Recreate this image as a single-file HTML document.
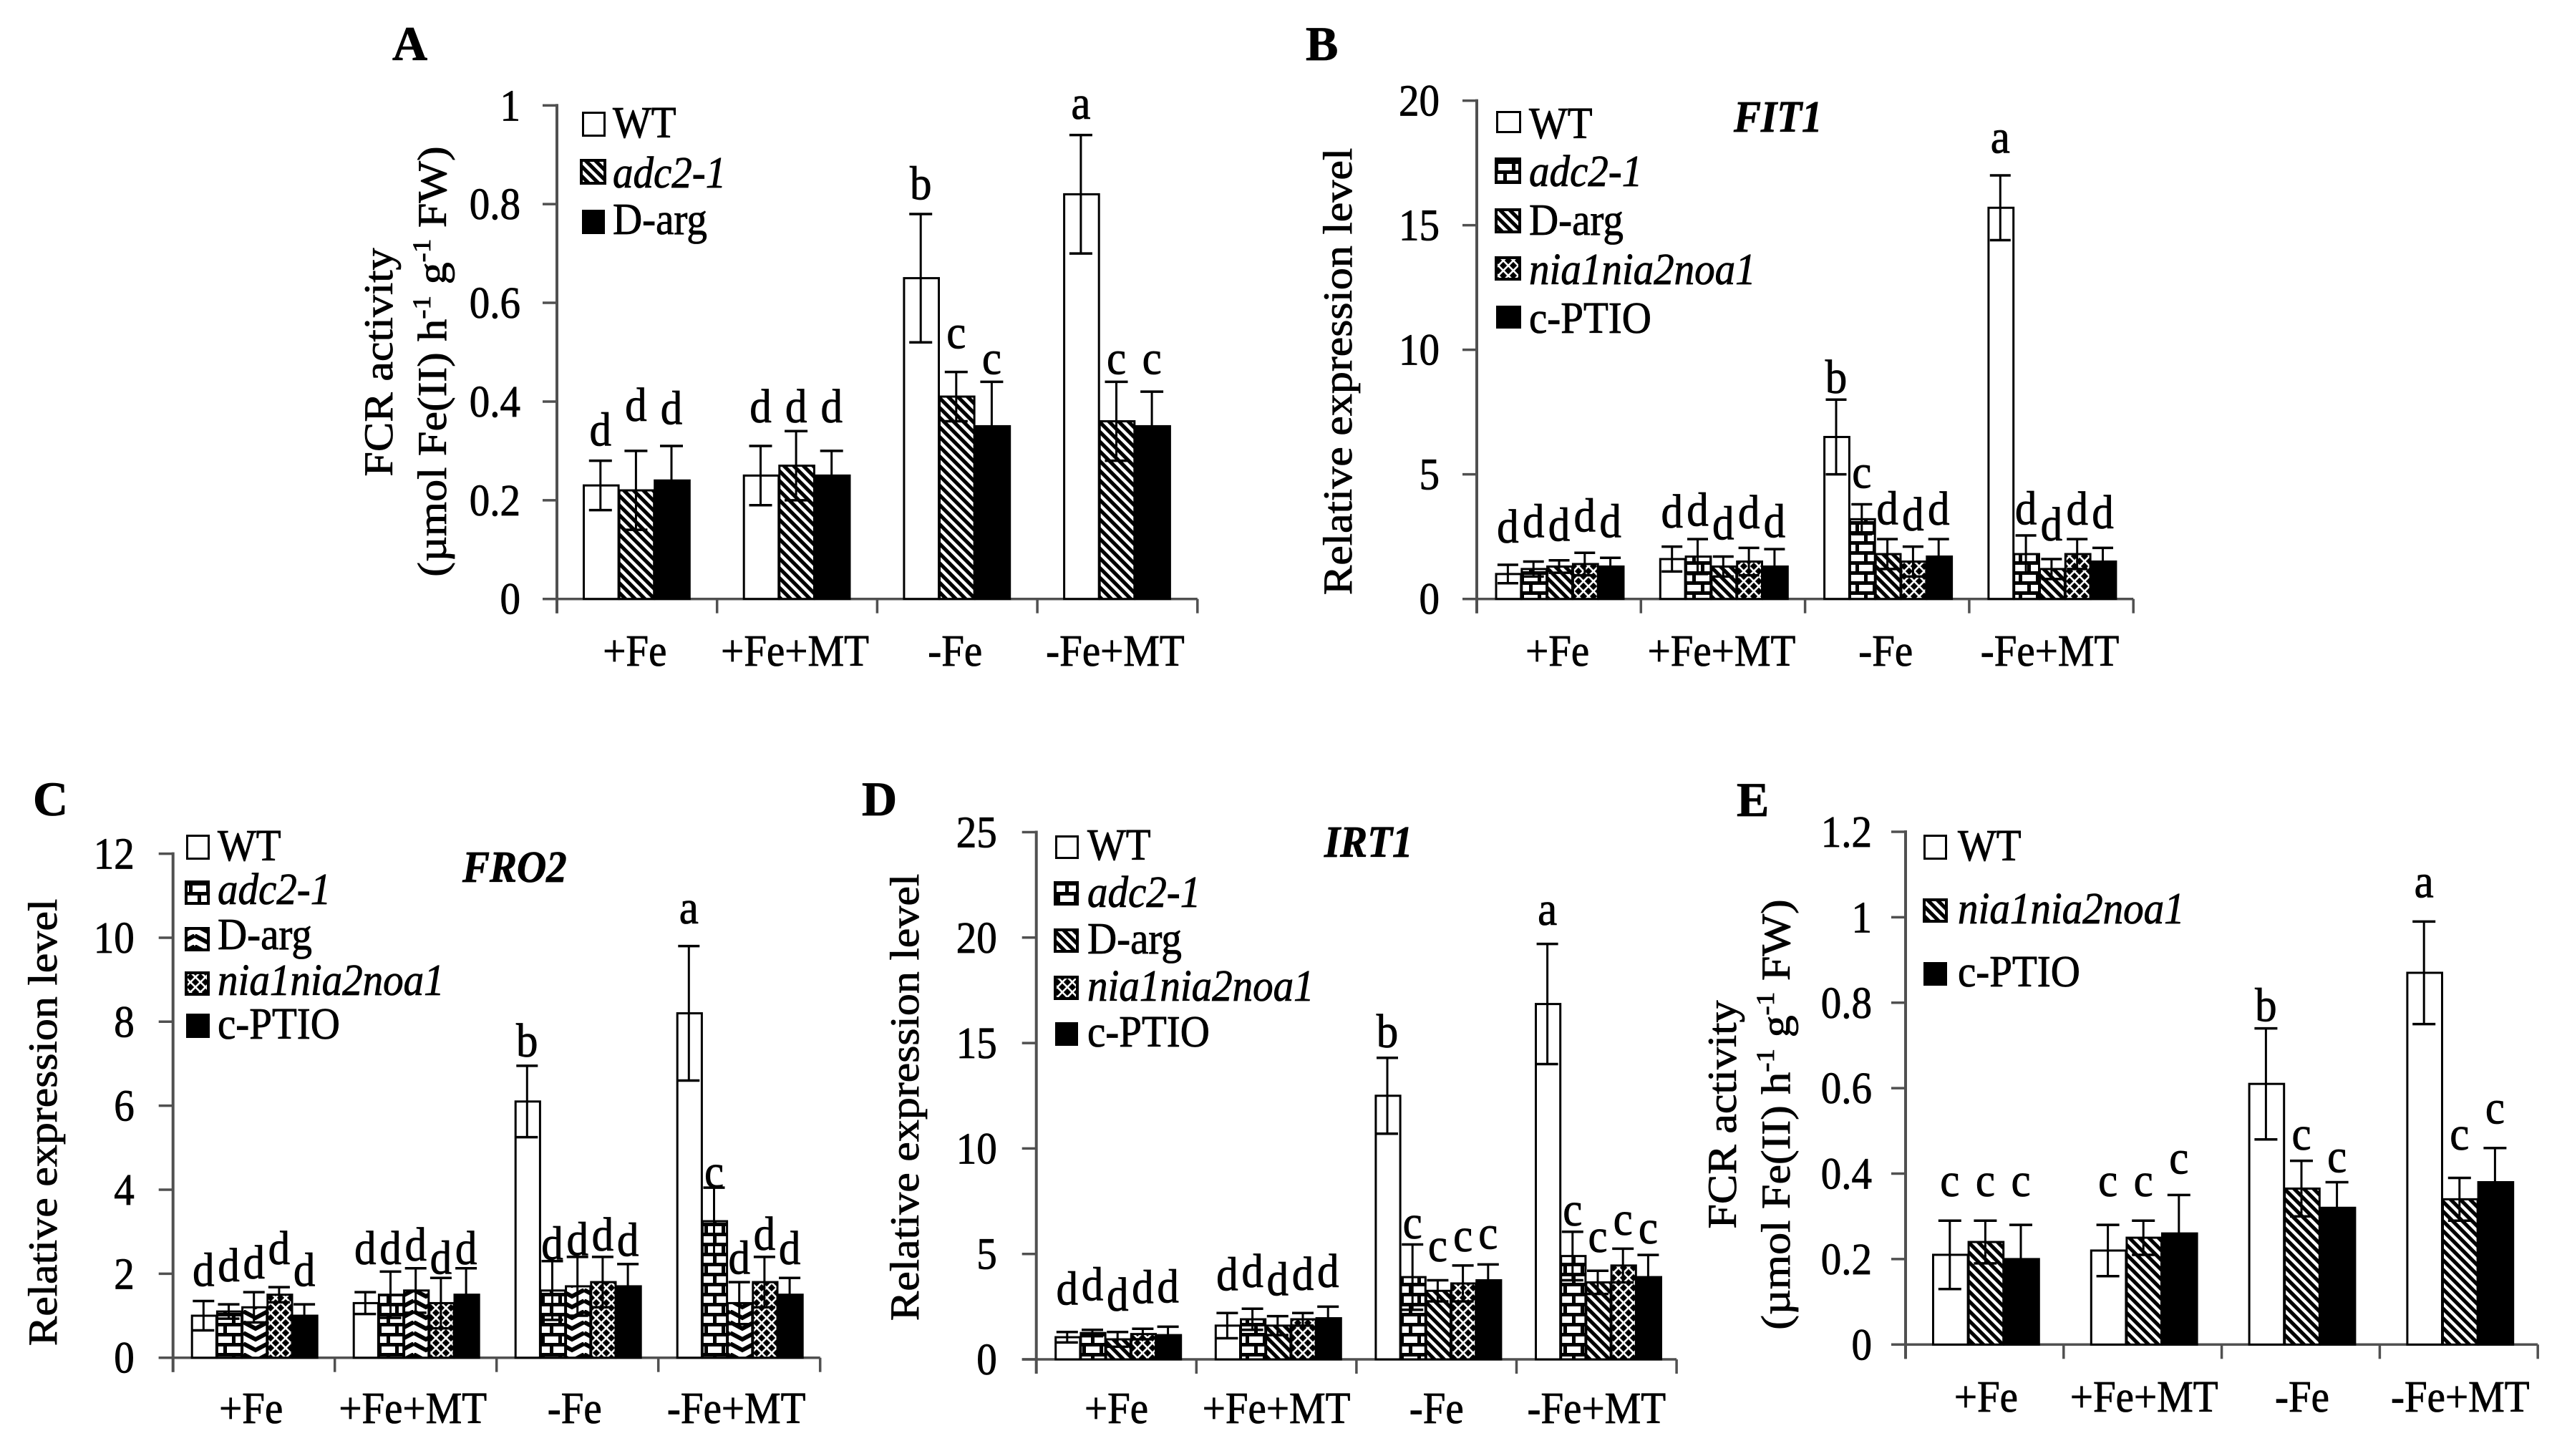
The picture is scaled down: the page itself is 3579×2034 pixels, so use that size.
<!DOCTYPE html>
<html lang="en">
<head>
<meta charset="utf-8">
<title>FCR activity and gene expression panels</title>
<style>
html,body{margin:0;padding:0;background:#fff;}
svg{display:block;font-family:"Liberation Serif",serif;font-size:57px;fill:#000;}
text{stroke:#000;stroke-width:0.8px;}
.pl{font-weight:bold;font-size:68px;}
.gene{font-weight:bold;font-style:italic;font-size:57px;}
.it{font-style:italic;}
</style>
</head>
<body>
<svg id="figure" xmlns="http://www.w3.org/2000/svg" width="3579" height="2034" viewBox="0 0 3579 2034">
<defs>
<pattern id="hatch" patternUnits="userSpaceOnUse" width="9.6" height="9.6" patternTransform="rotate(-45)"><rect width="9.6" height="9.6" fill="#000"/><rect width="4.4" height="9.6" fill="#fff"/></pattern>
<pattern id="brick" patternUnits="userSpaceOnUse" width="24" height="28"><rect width="24" height="28" fill="#fff"/><rect width="24" height="5" fill="#000"/><rect y="14" width="24" height="5" fill="#000"/><rect width="5" height="14" fill="#000"/><rect x="12" y="14" width="5" height="14" fill="#000"/></pattern>
<pattern id="zigzag" patternUnits="userSpaceOnUse" width="34" height="15"><rect width="34" height="15" fill="#fff"/><path d="M0 2 L17 11 L34 2" fill="none" stroke="#000" stroke-width="6"/></pattern>
<pattern id="lattice" patternUnits="userSpaceOnUse" width="14" height="14"><rect width="14" height="14" fill="#000"/><path d="M0 0L14 14M14 0L0 14" stroke="#fff" stroke-width="2.6"/></pattern>
</defs>

<!-- Panel A static text and legend -->
<g>
<text class="pl" x="548" y="84">A</text>
<text transform="translate(548 506) rotate(-90) scale(1.09 1)" text-anchor="middle">FCR activity</text>
<text transform="translate(623 505) rotate(-90) scale(1.09 1)" text-anchor="middle">(µmol Fe(II) h<tspan dy="-22" font-size="36">-1</tspan><tspan dy="22"> g</tspan><tspan dy="-22" font-size="36">-1</tspan><tspan dy="22"> FW)</tspan></text>
<rect x="814.5" y="157.5" width="30" height="32" fill="#fff" stroke="#000" stroke-width="3"/>
<text transform="translate(856 192) scale(1 1.09)">WT</text>
<rect x="812" y="224" width="33" height="32" fill="url(#hatch)" stroke="#000" stroke-width="4"/>
<text class="it" transform="translate(856 262) scale(1 1.09)">adc2-1</text>
<rect x="813" y="293" width="32" height="34" fill="#000"/>
<text transform="translate(856 327) scale(1 1.09)">D-arg</text>
</g>

<!-- Panel B static text and legend -->
<g>
<text class="pl" x="1824" y="84">B</text>
<text class="gene" transform="translate(2422 184) scale(1 1.09)">FIT1</text>
<text transform="translate(1888 519) rotate(-90) scale(1.09 1)" text-anchor="middle">Relative expression level</text>
<rect x="2091.5" y="156.5" width="32" height="28" fill="#fff" stroke="#000" stroke-width="3"/>
<text transform="translate(2136 193) scale(1 1.09)">WT</text>
<rect x="2090" y="222" width="33" height="33" fill="url(#brick)" stroke="#000" stroke-width="4"/>
<text class="it" transform="translate(2136 260) scale(1 1.09)">adc2-1</text>
<rect x="2090" y="293" width="33" height="31" fill="url(#hatch)" stroke="#000" stroke-width="4"/>
<text transform="translate(2136 328) scale(1 1.09)">D-arg</text>
<rect x="2090" y="360" width="33" height="30" fill="url(#lattice)" stroke="#000" stroke-width="4"/>
<text class="it" transform="translate(2136 397) scale(1 1.09)">nia1nia2noa1</text>
<rect x="2090" y="427" width="35" height="32" fill="#000"/>
<text transform="translate(2136 465) scale(1 1.09)">c-PTIO</text>
</g>

<!-- Panel C static text and legend -->
<g>
<text class="pl" x="46" y="1139">C</text>
<text class="gene" transform="translate(646 1232) scale(1 1.09)">FRO2</text>
<text transform="translate(79 1568) rotate(-90) scale(1.09 1)" text-anchor="middle">Relative expression level</text>
<rect x="261.5" y="1167.5" width="30" height="32" fill="#fff" stroke="#000" stroke-width="3"/>
<text transform="translate(304 1202) scale(1 1.09)">WT</text>
<rect x="260" y="1232" width="31" height="30" fill="url(#brick)" stroke="#000" stroke-width="4"/>
<text class="it" transform="translate(304 1263) scale(1 1.09)">adc2-1</text>
<rect x="260" y="1297" width="31" height="30" fill="url(#zigzag)" stroke="#000" stroke-width="4"/>
<text transform="translate(304 1326) scale(1 1.09)">D-arg</text>
<rect x="260" y="1359" width="31" height="30" fill="url(#lattice)" stroke="#000" stroke-width="4"/>
<text class="it" transform="translate(304 1390) scale(1 1.09)">nia1nia2noa1</text>
<rect x="260" y="1416" width="33" height="34" fill="#000"/>
<text transform="translate(304 1451) scale(1 1.09)">c-PTIO</text>
</g>

<!-- Panel D static text and legend -->
<g>
<text class="pl" x="1204" y="1139">D</text>
<text class="gene" transform="translate(1850 1197) scale(1 1.09)">IRT1</text>
<text transform="translate(1283 1533) rotate(-90) scale(1.09 1)" text-anchor="middle">Relative expression level</text>
<rect x="1475.5" y="1168.5" width="30" height="30" fill="#fff" stroke="#000" stroke-width="3"/>
<text transform="translate(1519 1201) scale(1 1.09)">WT</text>
<rect x="1474" y="1233" width="31" height="30" fill="url(#brick)" stroke="#000" stroke-width="4"/>
<text class="it" transform="translate(1519 1267) scale(1 1.09)">adc2-1</text>
<rect x="1474" y="1299" width="31" height="30" fill="url(#hatch)" stroke="#000" stroke-width="4"/>
<text transform="translate(1519 1332) scale(1 1.09)">D-arg</text>
<rect x="1474" y="1365" width="31" height="30" fill="url(#lattice)" stroke="#000" stroke-width="4"/>
<text class="it" transform="translate(1519 1398) scale(1 1.09)">nia1nia2noa1</text>
<rect x="1474" y="1428" width="32" height="33" fill="#000"/>
<text transform="translate(1519 1462) scale(1 1.09)">c-PTIO</text>
</g>

<!-- Panel E static text and legend -->
<g>
<text class="pl" x="2426" y="1140">E</text>
<text transform="translate(2425 1557) rotate(-90) scale(1.09 1)" text-anchor="middle">FCR activity</text>
<text transform="translate(2500 1557) rotate(-90) scale(1.09 1)" text-anchor="middle">(µmol Fe(II) h<tspan dy="-22" font-size="36">-1</tspan><tspan dy="22"> g</tspan><tspan dy="-22" font-size="36">-1</tspan><tspan dy="22"> FW)</tspan></text>
<rect x="2688.5" y="1167.5" width="30" height="32" fill="#fff" stroke="#000" stroke-width="3"/>
<text transform="translate(2735 1202) scale(1 1.09)">WT</text>
<rect x="2688" y="1257" width="31" height="30" fill="url(#hatch)" stroke="#000" stroke-width="4"/>
<text class="it" transform="translate(2735 1290) scale(1 1.09)">nia1nia2noa1</text>
<rect x="2687" y="1344" width="33" height="33" fill="#000"/>
<text transform="translate(2735 1378) scale(1 1.09)">c-PTIO</text>
</g>
</svg>

<script>
// Shared categories
const categories = ['+Fe', '+Fe+MT', '-Fe', '-Fe+MT'];

// Panel A: rows are WT, adc2-1, D-arg; columns follow categories
const aTicks = ['0', '0.2', '0.4', '0.6', '0.8', '1'];
const aValues = [[0.23, 0.25, 0.65, 0.82], [0.22, 0.27, 0.41, 0.36], [0.24, 0.25, 0.35, 0.35]];
const aErrors = [[0.05, 0.06, 0.13, 0.12], [0.08, 0.07, 0.05, 0.08], [0.07, 0.05, 0.09, 0.07]];
const aLetters = [['d', 'd', 'b', 'a'], ['d', 'd', 'c', 'c'], ['d', 'd', 'c', 'c']];
const aLetterAt = [[0.311, 0.358, 0.81, 0.973], [0.361, 0.358, 0.508, 0.456], [0.354, 0.358, 0.456, 0.456]];

// Panel B (FIT1): rows are WT, adc2-1, D-arg, nia1nia2noa1, c-PTIO
const bTicks = ['0', '5', '10', '15', '20'];
const bValues = [[1.0, 1.6, 6.5, 15.7], [1.2, 1.7, 3.2, 1.8], [1.3, 1.3, 1.8, 1.2], [1.4, 1.5, 1.5, 1.8], [1.3, 1.3, 1.7, 1.5]];
const bErrors = [[0.37, 0.5, 1.5, 1.3], [0.3, 0.7, 0.6, 0.75], [0.25, 0.4, 0.6, 0.4], [0.45, 0.55, 0.6, 0.6], [0.35, 0.7, 0.7, 0.55]];
const bLetters = [['d', 'd', 'b', 'a'], ['d', 'd', 'c', 'd'], ['d', 'd', 'd', 'd'], ['d', 'd', 'd', 'd'], ['d', 'd', 'd', 'd']];
const bLetterAt = [[2.26, 2.87, 8.27, 17.9], [2.48, 2.93, 4.46, 3.0], [2.34, 2.39, 3.0, 2.35], [2.7, 2.84, 2.75, 2.98], [2.48, 2.48, 2.98, 2.84]];

// Panel C (FRO2)
const cTicks = ['0', '2', '4', '6', '8', '10', '12'];
const cValues = [[1.0, 1.3, 6.1, 8.2], [1.1, 1.5, 1.6, 3.25], [1.2, 1.6, 1.7, 1.3], [1.5, 1.3, 1.8, 1.8], [1.0, 1.5, 1.7, 1.5]];
const cErrors = [[0.35, 0.26, 0.85, 1.6], [0.17, 0.55, 0.7, 0.8], [0.36, 0.53, 0.7, 0.5], [0.18, 0.6, 0.6, 0.6], [0.27, 0.63, 0.53, 0.4]];
const cLetters = [['d', 'd', 'b', 'a'], ['d', 'd', 'd', 'c'], ['d', 'd', 'd', 'd'], ['d', 'd', 'd', 'd'], ['d', 'd', 'd', 'd']];
const cLetterAt = [[1.71, 2.23, 7.17, 10.34], [1.82, 2.23, 2.34, 4.05], [1.89, 2.31, 2.44, 2.0], [2.23, 2.0, 2.55, 2.57], [1.71, 2.23, 2.42, 2.23]];

// Panel D (IRT1)
const dTicks = ['0', '5', '10', '15', '20', '25'];
const dValues = [[1.05, 1.6, 12.5, 16.85], [1.25, 1.9, 3.9, 4.9], [0.95, 1.6, 3.25, 3.65], [1.2, 1.9, 3.6, 4.45], [1.15, 1.95, 3.75, 3.9]];
const dErrors = [[0.25, 0.6, 1.8, 2.85], [0.15, 0.5, 1.55, 1.15], [0.35, 0.45, 0.5, 0.55], [0.25, 0.3, 0.85, 0.8], [0.4, 0.55, 0.75, 1.05]];
const dLetters = [['d', 'd', 'b', 'a'], ['d', 'd', 'c', 'c'], ['d', 'd', 'c', 'c'], ['d', 'd', 'c', 'c'], ['d', 'd', 'c', 'c']];
const dLetterAt = [[2.6, 3.27, 14.8, 20.6], [2.8, 3.43, 5.74, 6.34], [2.3, 3.03, 4.65, 5.1], [2.67, 3.3, 5.13, 5.9], [2.7, 3.43, 5.25, 5.5]];

// Panel E: rows are WT, nia1nia2noa1, c-PTIO
const eTicks = ['0', '0.2', '0.4', '0.6', '0.8', '1', '1.2'];
const eValues = [[0.21, 0.22, 0.61, 0.87], [0.24, 0.25, 0.365, 0.34], [0.2, 0.26, 0.32, 0.38]];
const eErrors = [[0.08, 0.06, 0.13, 0.12], [0.05, 0.04, 0.065, 0.05], [0.08, 0.09, 0.06, 0.08]];
const eLetters = [['c', 'c', 'b', 'a'], ['c', 'c', 'c', 'c'], ['c', 'c', 'c', 'c']];
const eLetterAt = [[0.347, 0.347, 0.757, 1.047], [0.347, 0.347, 0.456, 0.456], [0.347, 0.4, 0.403, 0.517]];

const NS = 'http://www.w3.org/2000/svg';
const figure = document.getElementById('figure');
const AXIS = '#505050';

function make(tag, parent) {
  const el = document.createElementNS(NS, tag);
  parent.appendChild(el);
  return el;
}
function line(parent, x1, y1, x2, y2, color, w) {
  const l = make('line', parent);
  l.setAttribute('x1', x1);
  l.setAttribute('y1', y1);
  l.setAttribute('x2', x2);
  l.setAttribute('y2', y2);
  l.setAttribute('stroke', color);
  l.setAttribute('stroke-width', w);
  return l;
}
function label(parent, str, x, y, anchor) {
  const t = make('text', parent);
  t.setAttribute('transform', 'translate(' + x + ' ' + y + ') scale(1 1.09)');
  t.setAttribute('text-anchor', anchor);
  t.textContent = str;
  return t;
}

function drawPanel(p) {
  const root = make('g', figure);
  
  
  const maxV = parseFloat(p.ticks[p.ticks.length - 1]);
  const yScale = v => p.y0 - (v / maxV) * (p.y0 - p.yTop);
  const xGroup = i => p.x0 + i * p.groupW;
  const xBar = (i, s) => xGroup(i) + p.offset + s * p.barW;

  // axes
  const yAxis = line(root, p.x0, p.yTop - 2, p.x0, p.y0 + 20, AXIS, 4);
  
  
  const xAxis = line(root, p.x0 - 20, p.y0, xGroup(categories.length), p.y0, AXIS, 3.5);
  
  

  p.ticks.forEach(tick => {
    const v = parseFloat(tick);
    const tm = line(root, p.x0 - 20, yScale(v), p.x0, yScale(v), AXIS, 3.5);
    
    
    const tl = label(root, tick, p.x0 - p.tickGap, yScale(v) + 21, 'end');
    
    
  });

  for (let i = 0; i <= categories.length; i++) {
    const tm = line(root, xGroup(i), p.y0, xGroup(i), p.y0 + 20, AXIS, 3.5);
    
    
  }
  categories.forEach((cat, i) => {
    const cl = label(root, cat, xGroup(i) + p.groupW / 2 + p.catShift, p.catY, 'middle');
    
    
  });

  // bars
  p.values.forEach((row, s) => {
    row.forEach((v, i) => {
      const bar = make('rect', root);
      bar.setAttribute('x', xBar(i, s) + 1.5);
      bar.setAttribute('y', yScale(v));
      bar.setAttribute('width', p.barW - 1);
      bar.setAttribute('height', p.y0 - yScale(v));
      bar.setAttribute('fill', p.fills[s]);
      bar.setAttribute('stroke', '#000');
      bar.setAttribute('stroke-width', 3);
      
      
    });
  });

  // error bars and significance letters
  p.values.forEach((row, s) => {
    row.forEach((v, i) => {
      const e = p.errors[s][i];
      const cx = xBar(i, s) + p.barW / 2;
      const g = make('g', root);
      
      
      line(g, cx, yScale(v + e), cx, yScale(Math.max(v - e, 0)), '#000', 3);
      line(g, cx - p.cap / 2, yScale(v + e), cx + p.cap / 2, yScale(v + e), '#000', 3.5);
      line(g, cx - p.cap / 2, yScale(Math.max(v - e, 0)), cx + p.cap / 2, yScale(Math.max(v - e, 0)), '#000', 3.5);
      const letter = label(root, p.letters[s][i], cx, yScale(p.letterAt[s][i]), 'middle');
      letter.setAttribute('font-size', '61');
      
      
    });
  });
}

drawPanel({ id: 'a', ticks: aTicks, values: aValues, errors: aErrors, letters: aLetters, letterAt: aLetterAt,
  fills: ['#fff', 'url(#hatch)', '#000'],
  x0: 778, groupW: 223.7, offset: 36, barW: 49.6, y0: 836.7, yTop: 147.3, tickGap: 51, catShift: -3, catY: 930, cap: 32 });
drawPanel({ id: 'b', ticks: bTicks, values: bValues, errors: bErrors, letters: bLetters, letterAt: bLetterAt,
  fills: ['#fff', 'url(#brick)', 'url(#hatch)', 'url(#lattice)', '#000'],
  x0: 2063, groupW: 229.3, offset: 25.5, barW: 35.8, y0: 836.7, yTop: 140.6, tickGap: 52, catShift: -2, catY: 930, cap: 29 });
drawPanel({ id: 'c', ticks: cTicks, values: cValues, errors: cErrors, letters: cLetters, letterAt: cLetterAt,
  fills: ['#fff', 'url(#brick)', 'url(#zigzag)', 'url(#lattice)', '#000'],
  x0: 241.7, groupW: 226, offset: 25, barW: 35.2, y0: 1896.7, yTop: 1192.6, tickGap: 54, catShift: -4, catY: 1988, cap: 30 });
drawPanel({ id: 'd', ticks: dTicks, values: dValues, errors: dErrors, letters: dLetters, letterAt: dLetterAt,
  fills: ['#fff', 'url(#brick)', 'url(#hatch)', 'url(#lattice)', '#000'],
  x0: 1447.7, groupW: 223.6, offset: 25.5, barW: 35.2, y0: 1899, yTop: 1162.5, tickGap: 55, catShift: 0, catY: 1988, cap: 30 });
drawPanel({ id: 'e', ticks: eTicks, values: eValues, errors: eErrors, letters: eLetters, letterAt: eLetterAt,
  fills: ['#fff', 'url(#hatch)', '#000'],
  x0: 2662, groupW: 220.8, offset: 37, barW: 49.6, y0: 1878.3, yTop: 1162, tickGap: 47, catShift: 2, catY: 1972, cap: 32 });
</script>
</body>
</html>
